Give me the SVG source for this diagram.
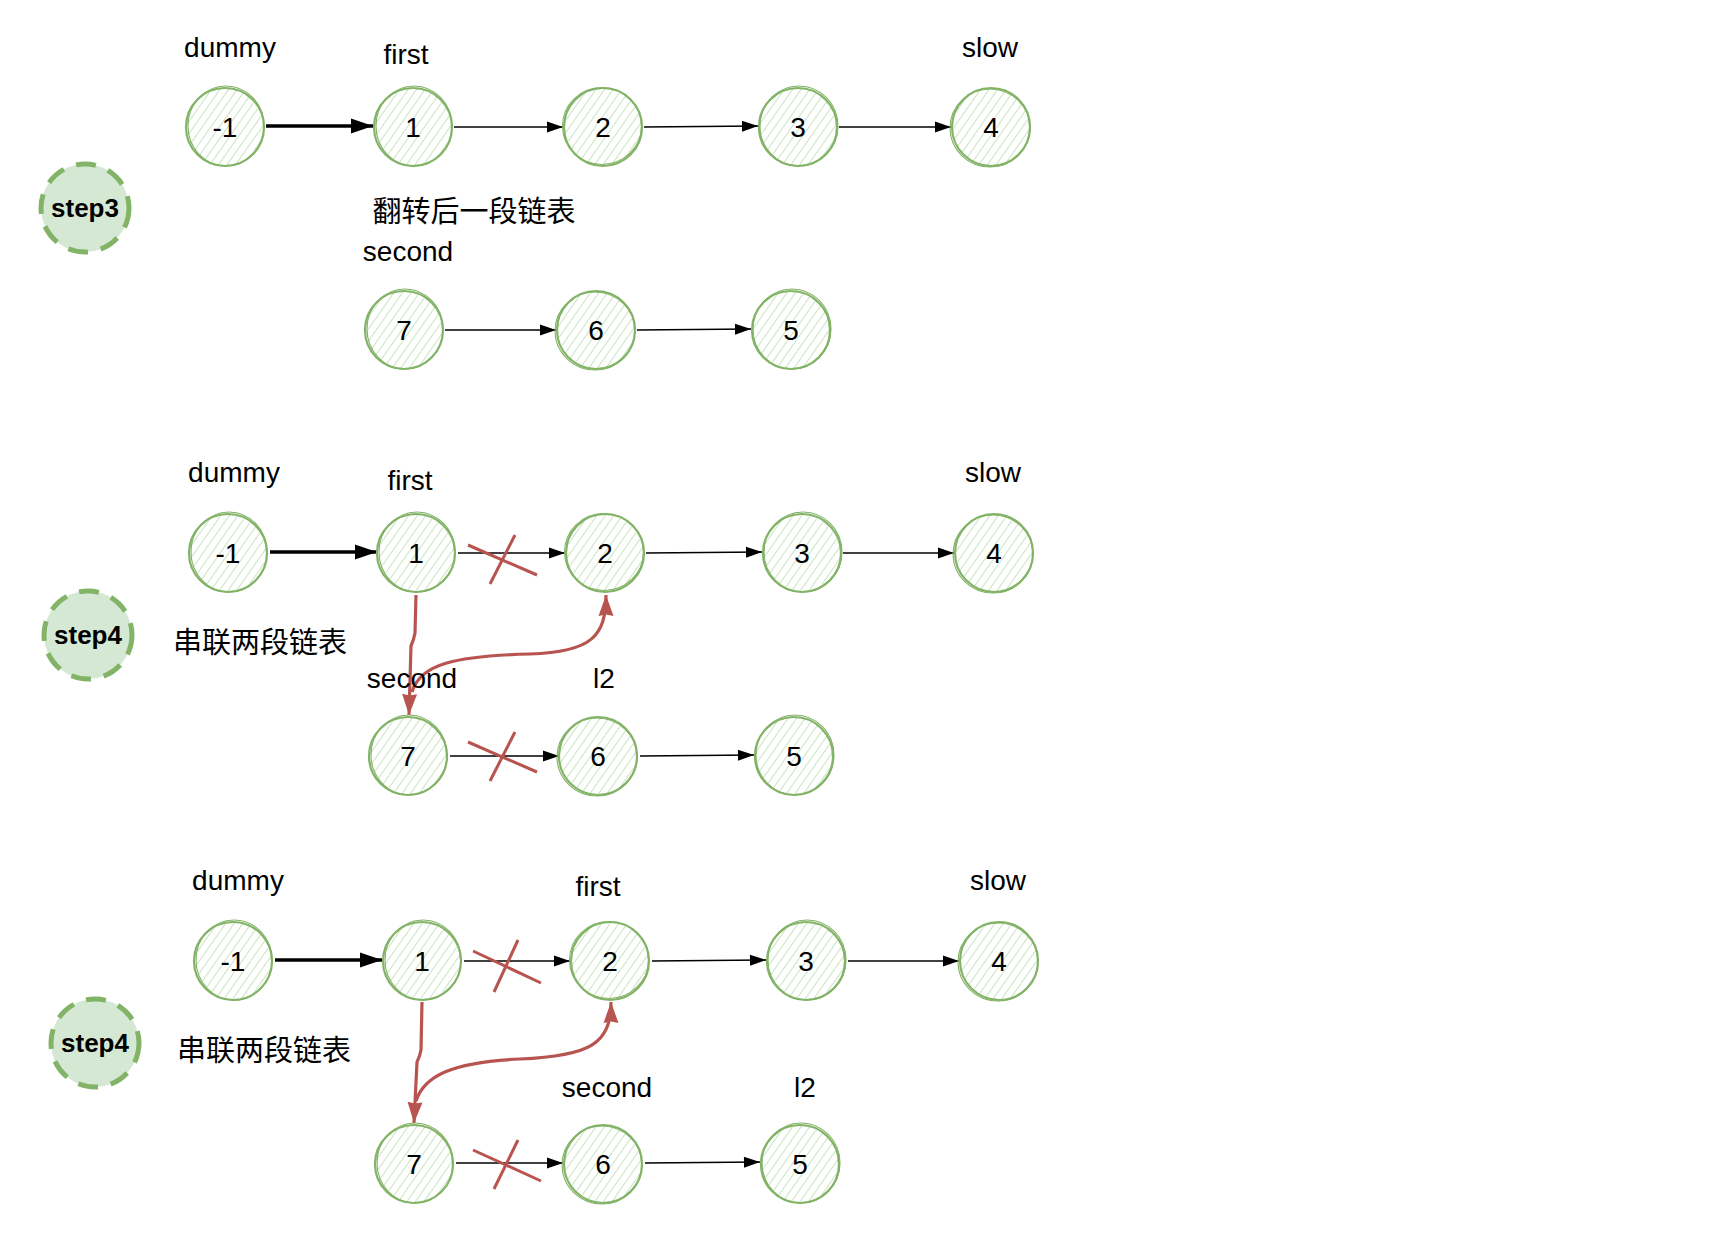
<svg xmlns="http://www.w3.org/2000/svg" width="1718" height="1252" viewBox="0 0 1718 1252">
<style>
.bg{fill:#ffffff}
.fillc{fill:url(#hatch);stroke:none}
.ring{fill:none;stroke:#82b366;stroke-width:2.2}
.ring2{fill:none;stroke:#82b366;stroke-width:1.1}
.num{font-family:"Liberation Sans",sans-serif;font-size:28px;fill:#000;text-anchor:middle}
.lbl{font-family:"Liberation Sans",sans-serif;font-size:28px;fill:#000;text-anchor:middle}
.cjk{font-family:"Liberation Sans","Noto Sans CJK SC",sans-serif;font-size:29px;fill:#000;text-anchor:middle}
.step{fill:#d5e8d4;stroke:#82b366;stroke-width:5;stroke-dasharray:20 13}
.steptxt{font-family:"Liberation Sans",sans-serif;font-size:26px;font-weight:bold;fill:#000;text-anchor:middle}
.ln{fill:none;stroke:#000;stroke-width:1.6;marker-end:url(#arr)}
.lnb{fill:none;stroke:#000;stroke-width:3.5;marker-end:url(#arrb)}
.red{fill:none;stroke:#b85450;stroke-width:3.2;marker-end:url(#arrr)}
.x{fill:none;stroke:#b85450;stroke-width:3}
</style>
<defs>
<pattern id="hatch" patternUnits="userSpaceOnUse" width="7" height="7" patternTransform="rotate(35)">
<rect width="7" height="7" fill="#ffffff"/>
<line x1="0" y1="0" x2="0" y2="7" stroke="#c8e4bf" stroke-width="2"/>
</pattern>
<marker id="arr" markerUnits="userSpaceOnUse" markerWidth="18" markerHeight="13" refX="17" refY="6.5" orient="auto">
<path d="M1,1 L17,6.5 L1,12 Z" fill="#000"/>
</marker>
<marker id="arrb" markerUnits="userSpaceOnUse" markerWidth="24" markerHeight="17" refX="23" refY="8.5" orient="auto">
<path d="M1,1 L23,8.5 L1,16 Z" fill="#000"/>
</marker>
<marker id="arrr" markerUnits="userSpaceOnUse" markerWidth="23" markerHeight="17" refX="22" refY="8.5" orient="auto">
<path d="M1,1 L22,8.5 L1,16 L2.5,8.5 Z" fill="#b85450"/>
</marker>
</defs>
<rect class="bg" width="1718" height="1252"/>

<!-- ============ connectors ============ -->
<g id="connectors">
<!-- step3 -->
<line class="lnb" x1="266" y1="126" x2="373" y2="126"/>
<line class="ln" x1="454" y1="127" x2="563" y2="127"/>
<line class="ln" x1="644" y1="127" x2="758" y2="126"/>
<line class="ln" x1="839" y1="127" x2="951" y2="127"/>
<line class="ln" x1="445" y1="330" x2="556" y2="330"/>
<line class="ln" x1="637" y1="330" x2="751" y2="329"/>
<!-- step4a -->
<line class="lnb" x1="270" y1="552" x2="377" y2="552"/>
<line class="ln" x1="458" y1="553" x2="565" y2="553"/>
<line class="ln" x1="646" y1="553" x2="762" y2="552"/>
<line class="ln" x1="843" y1="553" x2="954" y2="553"/>
<line class="ln" x1="450" y1="756" x2="559" y2="756"/>
<line class="ln" x1="640" y1="756" x2="754" y2="755"/>
<path class="red" d="M416,595 L415,633 Q414,639 411,646 L409,715"/>
<path class="red" d="M412,692 C420,664 455,656 530,654 C592,652 606,636 606,595"/>
<line class="x" x1="468" y1="545" x2="537" y2="575"/>
<line class="x" x1="515" y1="535" x2="490" y2="584"/>
<line class="x" x1="468" y1="742" x2="537" y2="772"/>
<line class="x" x1="515" y1="732" x2="490" y2="781"/>
<!-- step4b -->
<line class="lnb" x1="275" y1="960" x2="382" y2="960"/>
<line class="ln" x1="464" y1="961" x2="570" y2="961"/>
<line class="ln" x1="652" y1="961" x2="766" y2="960"/>
<line class="ln" x1="848" y1="961" x2="959" y2="961"/>
<line class="ln" x1="456" y1="1163" x2="563" y2="1163"/>
<line class="ln" x1="645" y1="1163" x2="760" y2="1162"/>
<path class="red" d="M422,1002 L421,1050 Q420,1056 417,1062 L414,1123"/>
<path class="red" d="M416,1101 C424,1076 452,1062 520,1059 C590,1056 611,1044 611,1002"/>
<line class="x" x1="473" y1="951" x2="541" y2="983"/>
<line class="x" x1="518" y1="940" x2="494" y2="992"/>
<line class="x" x1="473" y1="1150" x2="541" y2="1181"/>
<line class="x" x1="518" y1="1140" x2="494" y2="1189"/>
</g>

<!-- ============ step3 ============ -->
<g id="step3"><circle class="step" cx="85" cy="208" r="44"/><text class="steptxt" x="85" y="217">step3</text></g>
<g id="s3-lbl-dummy"><text class="lbl" x="230" y="57">dummy</text></g>
<g id="s3-lbl-first"><text class="lbl" x="406" y="64">first</text></g>
<g id="s3-lbl-slow"><text class="lbl" x="990" y="57">slow</text></g>
<g id="s3-lbl-desc"><text class="cjk" x="474" y="222">翻转后一段链表</text></g>
<g id="s3-lbl-second"><text class="lbl" x="408" y="261">second</text></g>

<g id="s3-n-1"><circle class="fillc" cx="225" cy="127" r="39"/><circle class="ring" cx="225" cy="127" r="39"/><ellipse class="ring2" cx="226" cy="126" rx="38" ry="40"/><text class="num" x="225" y="137">-1</text></g>
<g id="s3-n1"><circle class="fillc" cx="413" cy="127" r="39"/><circle class="ring" cx="413" cy="127" r="39"/><ellipse class="ring2" cx="414" cy="126" rx="38" ry="40"/><text class="num" x="413" y="137">1</text></g>
<g id="s3-n2"><circle class="fillc" cx="603" cy="127" r="39"/><circle class="ring" cx="603" cy="127" r="39"/><ellipse class="ring2" cx="602" cy="126" rx="39.5" ry="38.5"/><text class="num" x="603" y="137">2</text></g>
<g id="s3-n3"><circle class="fillc" cx="798" cy="127" r="39"/><circle class="ring" cx="798" cy="127" r="39"/><ellipse class="ring2" cx="799" cy="126" rx="39" ry="40"/><text class="num" x="798" y="137">3</text></g>
<g id="s3-n4"><circle class="fillc" cx="991" cy="127" r="39"/><circle class="ring" cx="991" cy="127" r="39"/><ellipse class="ring2" cx="990" cy="128" rx="40" ry="39"/><text class="num" x="991" y="137">4</text></g>
<g id="s3-n7"><circle class="fillc" cx="404" cy="330" r="39"/><circle class="ring" cx="404" cy="330" r="39"/><ellipse class="ring2" cx="405" cy="329" rx="38" ry="40"/><text class="num" x="404" y="340">7</text></g>
<g id="s3-n6"><circle class="fillc" cx="596" cy="330" r="39"/><circle class="ring" cx="596" cy="330" r="39"/><ellipse class="ring2" cx="595" cy="331" rx="40" ry="39"/><text class="num" x="596" y="340">6</text></g>
<g id="s3-n5"><circle class="fillc" cx="791" cy="330" r="39"/><circle class="ring" cx="791" cy="330" r="39"/><ellipse class="ring2" cx="792" cy="329" rx="39" ry="40"/><text class="num" x="791" y="340">5</text></g>

<!-- ============ step4 (a) ============ -->
<g id="step4a"><circle class="step" cx="88" cy="635" r="44"/><text class="steptxt" x="88" y="644">step4</text></g>
<g id="s4a-lbl-dummy"><text class="lbl" x="234" y="482">dummy</text></g>
<g id="s4a-lbl-first"><text class="lbl" x="410" y="490">first</text></g>
<g id="s4a-lbl-slow"><text class="lbl" x="993" y="482">slow</text></g>
<g id="s4a-lbl-desc"><text class="cjk" x="260" y="653">串联两段链表</text></g>
<g id="s4a-lbl-second"><text class="lbl" x="412" y="688">second</text></g>
<g id="s4a-lbl-l2"><text class="lbl" x="604" y="688">l2</text></g>

<g id="s4a-n-1"><circle class="fillc" cx="228" cy="553" r="39"/><circle class="ring" cx="228" cy="553" r="39"/><ellipse class="ring2" cx="229" cy="552" rx="38" ry="40"/><text class="num" x="228" y="563">-1</text></g>
<g id="s4a-n1"><circle class="fillc" cx="416" cy="553" r="39"/><circle class="ring" cx="416" cy="553" r="39"/><ellipse class="ring2" cx="417" cy="552" rx="38" ry="40"/><text class="num" x="416" y="563">1</text></g>
<g id="s4a-n2"><circle class="fillc" cx="605" cy="553" r="39"/><circle class="ring" cx="605" cy="553" r="39"/><ellipse class="ring2" cx="604" cy="552" rx="39.5" ry="38.5"/><text class="num" x="605" y="563">2</text></g>
<g id="s4a-n3"><circle class="fillc" cx="802" cy="553" r="39"/><circle class="ring" cx="802" cy="553" r="39"/><ellipse class="ring2" cx="803" cy="552" rx="39" ry="40"/><text class="num" x="802" y="563">3</text></g>
<g id="s4a-n4"><circle class="fillc" cx="994" cy="553" r="39"/><circle class="ring" cx="994" cy="553" r="39"/><ellipse class="ring2" cx="993" cy="554" rx="40" ry="39"/><text class="num" x="994" y="563">4</text></g>
<g id="s4a-n7"><circle class="fillc" cx="408" cy="756" r="39"/><circle class="ring" cx="408" cy="756" r="39"/><ellipse class="ring2" cx="409" cy="755" rx="38" ry="40"/><text class="num" x="408" y="766">7</text></g>
<g id="s4a-n6"><circle class="fillc" cx="598" cy="756" r="39"/><circle class="ring" cx="598" cy="756" r="39"/><ellipse class="ring2" cx="597" cy="757" rx="40" ry="39"/><text class="num" x="598" y="766">6</text></g>
<g id="s4a-n5"><circle class="fillc" cx="794" cy="756" r="39"/><circle class="ring" cx="794" cy="756" r="39"/><ellipse class="ring2" cx="795" cy="755" rx="39" ry="40"/><text class="num" x="794" y="766">5</text></g>

<!-- ============ step4 (b) ============ -->
<g id="step4b"><circle class="step" cx="95" cy="1043" r="44"/><text class="steptxt" x="95" y="1052">step4</text></g>
<g id="s4b-lbl-dummy"><text class="lbl" x="238" y="890">dummy</text></g>
<g id="s4b-lbl-first"><text class="lbl" x="598" y="896">first</text></g>
<g id="s4b-lbl-slow"><text class="lbl" x="998" y="890">slow</text></g>
<g id="s4b-lbl-desc"><text class="cjk" x="264" y="1061">串联两段链表</text></g>
<g id="s4b-lbl-second"><text class="lbl" x="607" y="1097">second</text></g>
<g id="s4b-lbl-l2"><text class="lbl" x="805" y="1097">l2</text></g>

<g id="s4b-n-1"><circle class="fillc" cx="233" cy="961" r="39"/><circle class="ring" cx="233" cy="961" r="39"/><ellipse class="ring2" cx="234" cy="960" rx="38" ry="40"/><text class="num" x="233" y="971">-1</text></g>
<g id="s4b-n1"><circle class="fillc" cx="422" cy="961" r="39"/><circle class="ring" cx="422" cy="961" r="39"/><ellipse class="ring2" cx="423" cy="960" rx="38" ry="40"/><text class="num" x="422" y="971">1</text></g>
<g id="s4b-n2"><circle class="fillc" cx="610" cy="961" r="39"/><circle class="ring" cx="610" cy="961" r="39"/><ellipse class="ring2" cx="609" cy="960" rx="39.5" ry="38.5"/><text class="num" x="610" y="971">2</text></g>
<g id="s4b-n3"><circle class="fillc" cx="806" cy="961" r="39"/><circle class="ring" cx="806" cy="961" r="39"/><ellipse class="ring2" cx="807" cy="960" rx="39" ry="40"/><text class="num" x="806" y="971">3</text></g>
<g id="s4b-n4"><circle class="fillc" cx="999" cy="961" r="39"/><circle class="ring" cx="999" cy="961" r="39"/><ellipse class="ring2" cx="998" cy="962" rx="40" ry="39"/><text class="num" x="999" y="971">4</text></g>
<g id="s4b-n7"><circle class="fillc" cx="414" cy="1164" r="39"/><circle class="ring" cx="414" cy="1164" r="39"/><ellipse class="ring2" cx="415" cy="1163" rx="38" ry="40"/><text class="num" x="414" y="1174">7</text></g>
<g id="s4b-n6"><circle class="fillc" cx="603" cy="1164" r="39"/><circle class="ring" cx="603" cy="1164" r="39"/><ellipse class="ring2" cx="602" cy="1165" rx="40" ry="39"/><text class="num" x="603" y="1174">6</text></g>
<g id="s4b-n5"><circle class="fillc" cx="800" cy="1164" r="39"/><circle class="ring" cx="800" cy="1164" r="39"/><ellipse class="ring2" cx="801" cy="1163" rx="39" ry="40"/><text class="num" x="800" y="1174">5</text></g>
</svg>
